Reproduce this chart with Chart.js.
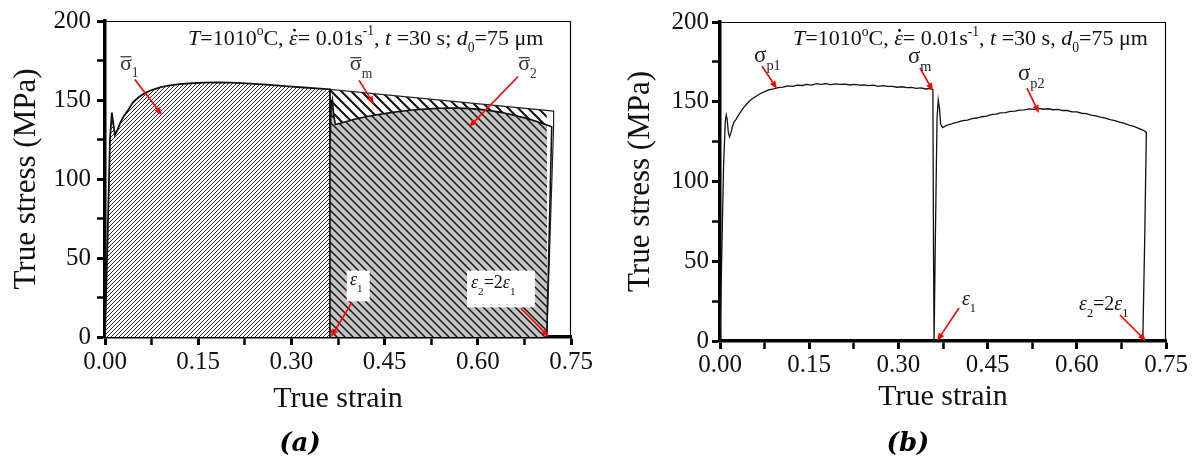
<!DOCTYPE html>
<html><head><meta charset="utf-8">
<script src="https://cdn.jsdelivr.net/npm/chart.js@4.4.0/dist/chart.umd.min.js"></script>
<style>
html,body{margin:0;padding:0;background:#fff;}
#wrap{position:relative;width:1196px;height:464px;overflow:hidden;background:#fff;}
canvas{position:absolute;top:0;}
#ca{left:0;} #cb{left:598px;}
.cap{position:absolute;top:427px;width:100px;text-align:center;font:italic bold 26px "DejaVu Serif";line-height:30px;color:#000;}
</style></head><body>
<div id="wrap">
<canvas id="ca" width="598" height="464"></canvas>
<canvas id="cb" width="598" height="464"></canvas>
<div class="cap" style="left:250px">(a)</div>
<div class="cap" style="left:858px">(b)</div>
</div>
<script>
// ---------- tick labels ----------
const xTickLabels = ['0.00','0.15','0.30','0.45','0.60','0.75'];
const yTickLabels = ['0','50','100','150','200'];

// ---------- panel (a) ----------
const strainA1 = [0,0.004,0.008,0.011,0.013,0.016,0.02,0.025,0.03,0.037,0.045,0.055,0.065,0.075,0.09,0.105,0.12,0.14,0.16,0.18,0.20,0.22,0.24,0.26,0.28,0.30,0.32,0.34,0.362,0.362];
const stressA1 = [0,60,125,142,136,128,131,136,139.5,143.5,148.5,152,154.5,156.3,158.2,159.3,160,160.6,161,161.1,161,160.7,160.2,159.7,159.1,158.5,157.9,157.3,156.7,0];
const strainA2 = [0.362,0.362,0.364,0.366,0.368,0.371,0.38,0.40,0.42,0.44,0.46,0.48,0.50,0.52,0.54,0.56,0.58,0.60,0.62,0.64,0.66,0.68,0.70,0.719,0.711];
const stressA2 = [0,120,146,150,140,134.5,135.5,137.6,139.4,140.8,142,143,143.8,144.4,144.8,144.9,144.7,144.2,143.3,142,140.2,138.2,135.8,133,0];
const strainBand = [0.362,0.362,0.722,0.722,0.711];
const stressBand = [0,156.7,143,133,0];

// ---------- panel (b) ----------
const strainB = [0,0.003,0.006,0.009,0.0105,0.012,0.014,0.016,0.018,0.021,0.024,0.027,0.031,0.035,0.04,0.045,0.05,0.056,0.062,0.068,0.075,0.082,0.09,0.098,0.106,0.114,0.122,0.13,0.138,0.146,0.154,0.162,0.17,0.178,0.186,0.194,0.202,0.21,0.218,0.226,0.234,0.242,0.25,0.258,0.266,0.274,0.282,0.29,0.298,0.306,0.314,0.322,0.33,0.338,0.346,0.352,0.358,
  0.359,0.360,0.362,0.365,0.367,0.369,0.371,0.374,0.378,
  0.382,0.388,0.394,0.40,0.408,0.416,0.424,0.432,0.44,0.448,0.456,0.464,0.472,0.48,0.488,0.496,0.504,0.512,0.52,0.528,0.536,0.544,0.552,0.56,0.568,0.576,0.584,0.592,0.60,0.608,0.616,0.624,0.632,0.64,0.648,0.656,0.664,0.672,0.68,0.688,0.696,0.704,0.712,0.717,0.714,0.711];
const stressB = [0,55,110,138,141.7,139,131,128,130,134.5,137.5,139,141.5,143.8,146.5,148.6,150.6,152.3,153.8,155.2,156.3,157.5,158.1,158.9,159.2,159.9,159.6,160.4,160.2,160.9,160.4,161.3,160.9,161.4,160.8,161.2,160.9,161.1,160.5,160.9,160.4,160.6,160.1,160.4,159.7,160.1,159.6,159.7,159.1,159.4,158.9,159.0,158.4,158.7,158.0,158.3,157.5,
  60,0,60,140,151,146,136,133.8,134.6,
  135.4,135.9,136.8,137.2,138.1,138.5,139.4,139.8,140.6,141.0,141.9,142.2,143.0,143.2,144.0,144.1,144.8,144.9,145.5,145.2,145.8,145.3,145.6,145.0,145.2,144.5,144.5,143.7,143.6,142.8,142.5,141.6,141.1,140.3,139.8,138.8,138.2,137.2,136.4,135.4,134.5,133.3,132.1,130.8,60,0];

const zip = (xs, ys) => xs.map((x, i) => ({x, y: ys[i]}));

// ---------- hatch patterns ----------
function hatch(size, dir, bg, fg, lw) {
  const c = document.createElement('canvas'); c.width = c.height = size;
  const g = c.getContext('2d');
  if (bg) { g.fillStyle = bg; g.fillRect(0, 0, size, size); }
  g.strokeStyle = fg; g.lineWidth = lw; g.beginPath();
  if (dir > 0) {
    g.moveTo(0, size); g.lineTo(size, 0);
    g.moveTo(-1, 1); g.lineTo(1, -1);
    g.moveTo(size - 1, size + 1); g.lineTo(size + 1, size - 1);
  } else {
    g.moveTo(0, 0); g.lineTo(size, size);
    g.moveTo(-1, size - 1); g.lineTo(1, size + 1);
    g.moveTo(size - 1, -1); g.lineTo(size + 1, 1);
  }
  g.stroke();
  return document.createElement('canvas').getContext('2d').createPattern(c, 'repeat');
}
const patFine = hatch(4, 1, '#ffffff', '#2e2e2e', 1);
const patGray = hatch(8, -1, '#c4c4c4', '#111111', 1.4);
const patWide = hatch(10, -1, '#ffffff', '#111111', 2);

// ---------- rich text ----------
function drawParts(ctx, x, y, parts, size, color) {
  let cx = x;
  ctx.fillStyle = color; ctx.strokeStyle = color; ctx.textBaseline = 'alphabetic'; ctx.textAlign = 'left';
  for (const p of parts) {
    const small = p.sup || p.sub; const s = small ? size * 0.62 : size;
    ctx.font = (p.it ? 'italic ' : '') + s.toFixed(1) + 'px "Liberation Serif"';
    const dy = p.sup ? -size * 0.42 : (p.sub ? size * 0.34 : 0);
    const w = ctx.measureText(p.t).width;
    ctx.fillText(p.t, cx, y + dy);
    if (p.dot) { ctx.beginPath(); ctx.arc(cx + w * 0.62, y - size * 0.66, size * 0.065, 0, Math.PI * 2); ctx.fill(); }
    if (p.bar) { ctx.lineWidth = 1.2; ctx.beginPath(); ctx.moveTo(cx + 0.5, y - size * 0.58); ctx.lineTo(cx + w - 0.5, y - size * 0.58); ctx.stroke(); }
    cx += w;
  }
}
function arrow(ctx, x1, y1, x2, y2) {
  const a = Math.atan2(y2 - y1, x2 - x1), L = 8, W = 3.2;
  ctx.strokeStyle = '#ff0000'; ctx.fillStyle = '#ff0000'; ctx.lineWidth = 1.6;
  ctx.beginPath(); ctx.moveTo(x1, y1); ctx.lineTo(x2 - Math.cos(a) * L * 0.8, y2 - Math.sin(a) * L * 0.8); ctx.stroke();
  ctx.beginPath(); ctx.moveTo(x2, y2);
  ctx.lineTo(x2 - L * Math.cos(a) + W * Math.sin(a), y2 - L * Math.sin(a) - W * Math.cos(a));
  ctx.lineTo(x2 - L * Math.cos(a) - W * Math.sin(a), y2 - L * Math.sin(a) + W * Math.cos(a));
  ctx.closePath(); ctx.fill();
}

const condA = [{t:'T',it:1},{t:'=1010'},{t:'o',sup:1},{t:'C, '},{t:'ε',it:1,dot:1},{t:'= 0.01s'},{t:'-1',sup:1},{t:', '},{t:'t',it:1},{t:' =30 s; '},{t:'d',it:1},{t:'0',sub:1},{t:'=75 μm'}];
const condB = [{t:'T',it:1},{t:'=1010'},{t:'o',sup:1},{t:'C, '},{t:'ε',it:1,dot:1},{t:'= 0.01s'},{t:'-1',sup:1},{t:', '},{t:'t',it:1},{t:' =30 s, '},{t:'d',it:1},{t:'0',sub:1},{t:'=75 μm'}];
const eps1 = [{t:'ε',it:1},{t:'1',sub:1}];
const eps2 = [{t:'ε',it:1},{t:'2',sub:1},{t:'=2'},{t:'ε',it:1},{t:'1',sub:1}];

const annA = {
  boxes: [[0.389,0.426,42,22.6],[0.5826,0.692,42,18.8]],
  texts: [
    {x:0.1336,y:185,parts:condA,size:22,color:'#111'},
    {x:0.024,y:169.3,parts:[{t:'σ',bar:1},{t:'1',sub:1}],size:22,color:'#333'},
    {x:0.394,y:168.7,parts:[{t:'σ',bar:1},{t:'m',sub:1}],size:22,color:'#333'},
    {x:0.665,y:168.7,parts:[{t:'σ',bar:1},{t:'2',sub:1}],size:22,color:'#333'},
    {x:0.3943,y:32.6,parts:eps1,size:18,color:'#111'},
    {x:0.589,y:30.7,parts:eps2,size:18,color:'#111'}
  ],
  arrows: [[0.048,163,0.0917,140.4],[0.409,162.4,0.433,147.3],[0.665,164.9,0.586,132.9],[0.3975,21.9,0.3637,0],[0.6695,18.2,0.7146,0]]
};
const annB = {
  boxes: [],
  texts: [
    {x:0.1228,y:185.6,parts:condB,size:22,color:'#111'},
    {x:0.0572,y:174.9,parts:[{t:'σ'},{t:'p1',sub:1}],size:23,color:'#222'},
    {x:0.316,y:174.3,parts:[{t:'σ'},{t:'m',sub:1}],size:23,color:'#222'},
    {x:0.501,y:163.6,parts:[{t:'σ'},{t:'p2',sub:1}],size:23,color:'#222'},
    {x:0.4069,y:22.6,parts:eps1,size:20,color:'#111'},
    {x:0.6037,y:19.4,parts:eps2,size:20,color:'#111'}
  ],
  arrows: [[0.0706,172.4,0.0959,158],[0.3363,171.2,0.3582,156.7],[0.5163,158.6,0.5364,142.9],[0.4019,20.7,0.3649,0],[0.6726,16.3,0.7163,0]]
};

function annPlugin(ann) {
  return {
    id: 'ann',
    afterDatasetsDraw(chart) {
      const ctx = chart.ctx, xs = chart.scales.x, ys = chart.scales.y;
      const px = v => xs.getPixelForValue(v), py = v => ys.getPixelForValue(v);
      const a = chart.chartArea;
      ctx.save();
      ctx.strokeStyle = '#000'; ctx.lineWidth = 1.2;
      ctx.beginPath(); ctx.moveTo(a.left, a.top + 0.5); ctx.lineTo(a.right - 0.5, a.top + 0.5); ctx.lineTo(a.right - 0.5, a.bottom); ctx.stroke();
      for (const b of ann.boxes) {
        const x1 = px(b[0]), x2 = px(b[1]), y1 = py(b[2]), y2 = py(b[3]);
        ctx.fillStyle = '#fff'; ctx.fillRect(x1, y1, x2 - x1, y2 - y1);
      }
      for (const r of ann.arrows) arrow(ctx, px(r[0]), py(r[1]), px(r[2]), py(r[3]));
      for (const t of ann.texts) drawParts(ctx, px(t.x), py(t.y), t.parts, t.size, t.color);
      ctx.restore();
    }
  };
}

const FONT = '"Liberation Serif"';
function options(cfg) {
  return {
    responsive: false, animation: false, devicePixelRatio: 1,
    layout: {padding: {left: 0, right: cfg.padRight, top: cfg.padTop, bottom: 0}},
    plugins: {legend: {display: false}, tooltip: {enabled: false}},
    elements: {point: {radius: 0}, line: {tension: 0}},
    scales: {
      x: {
        type: 'linear', min: 0, max: 0.75,
        afterFit(s) { s.height = cfg.xHeight; },
        ticks: {stepSize: 0.075, autoSkip: false, maxRotation: 0, padding: cfg.xTickPad, color: '#111',
          font: {family: FONT, size: 25},
          callback: v => { const k = Math.round(v / 0.075); return k % 2 === 0 ? xTickLabels[k / 2] : ''; }},
        grid: {drawOnChartArea: false, tickLength: 8, tickColor: '#000',
          tickWidth: c => (c.tick && Math.round(c.tick.value / 0.075) % 2 === 0) ? 3 : 2.5},
        border: {display: true, color: '#000', width: 3.5},
        title: {display: true, text: 'True strain', color: '#111', font: {family: FONT, size: 30}, padding: {top: 0, bottom: cfg.xTitlePad}}
      },
      y: {
        type: 'linear', min: 0, max: 200,
        afterFit(s) { s.width = cfg.yWidth; },
        ticks: {stepSize: 25, autoSkip: false, padding: cfg.yTickPad, color: '#111',
          font: {family: FONT, size: 25},
          callback: v => (Math.round(v) % 50 === 0) ? yTickLabels[Math.round(v) / 50] : ''},
        grid: {drawOnChartArea: false, tickLength: 8, tickColor: '#000',
          tickWidth: c => (c.tick && Math.round(c.tick.value) % 50 === 0) ? 3 : 2.5},
        border: {display: true, color: '#000', width: 3.5},
        title: {display: true, text: 'True stress (MPa)', color: '#111', font: {family: FONT, size: 31}, padding: {top: cfg.yTitlePad, bottom: 0}}
      }
    }
  };
}

new Chart(document.getElementById('ca'), {
  type: 'line',
  data: {datasets: [
    {data: zip(strainA2, stressA2), fill: 'origin', backgroundColor: patGray, borderColor: '#111', borderWidth: 1.6, pointRadius: 0},
    {data: zip(strainA1, stressA1), fill: 'origin', backgroundColor: patFine, borderColor: '#111', borderWidth: 1.8, pointRadius: 0},
    {data: zip(strainBand, stressBand), fill: 'origin', backgroundColor: patWide, borderColor: '#222', borderWidth: 1.2, pointRadius: 0}
  ]},
  options: options({padRight: 27, padTop: 18, xHeight: 127, yWidth: 105, xTickPad: 2, yTickPad: 6, xTitlePad: 47, yTitlePad: 8}),
  plugins: [annPlugin(annA)]
});

new Chart(document.getElementById('cb'), {
  type: 'line',
  data: {datasets: [
    {data: zip(strainB, stressB), fill: false, borderColor: '#111', borderWidth: 1.3, pointRadius: 0}
  ]},
  options: options({padRight: 30, padTop: 22, xHeight: 123, yWidth: 122, xTickPad: 1, yTickPad: 3, xTitlePad: 49, yTitlePad: 24}),
  plugins: [annPlugin(annB)]
});
</script>
</body></html>
